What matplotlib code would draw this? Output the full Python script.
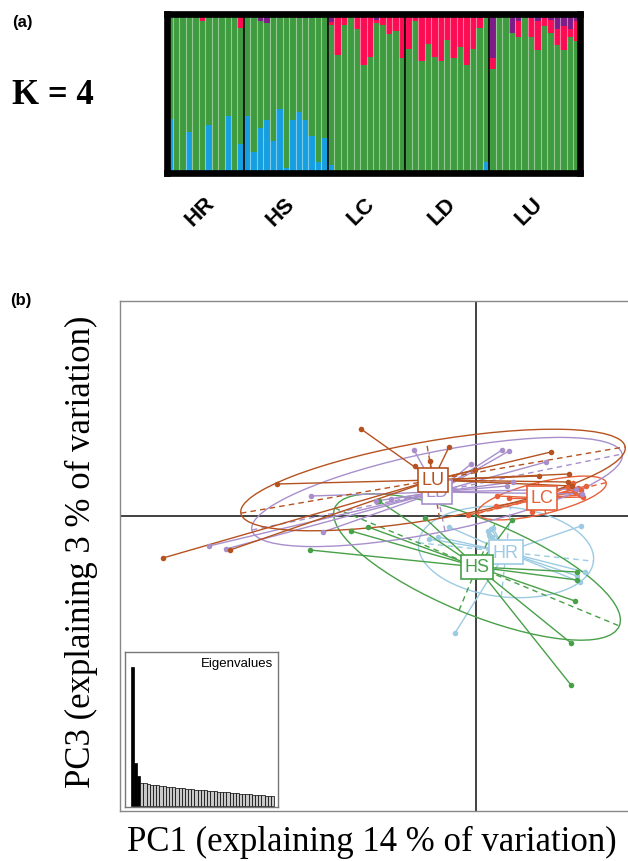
import numpy as np
import matplotlib
matplotlib.use("Agg")
import matplotlib.pyplot as plt
from matplotlib.patches import Ellipse
from matplotlib.transforms import blended_transform_factory

W, H = 628, 862

# ---------------- (a) STRUCTURE K = 4 ----------------
pops = ["HR", "HS", "LC", "LD", "LU"]

hr_blue = [0.34, 0.02, 0.02, 0.26, 0.02, 0.02, 0.30, 0.02, 0.02, 0.36, 0.02, 0.18]
hr_red = [0.0, 0.0, 0.0, 0.0, 0.0, 0.04, 0.0, 0.0, 0.0, 0.0, 0.0, 0.08]
hr_purple = [0.02, 0.02, 0.01, 0.01, 0.01, 0.01, 0.01, 0.02, 0.02, 0.01, 0.01, 0.01]

hs_blue = [0.36, 0.13, 0.28, 0.33, 0.20, 0.40, 0.03, 0.33, 0.38, 0.33, 0.23, 0.07, 0.22]
hs_red = [0.0] * 13
hs_purple = [0.02, 0.02, 0.05, 0.06, 0.01, 0.01, 0.0, 0.02, 0.03, 0.03, 0.03, 0.01, 0.01]

lc_blue = [0.05, 0.0, 0.0, 0.0, 0.0, 0.0, 0.0, 0.0, 0.0, 0.0, 0.0, 0.0]
lc_red = [0.02, 0.26, 0.07, 0.01, 0.10, 0.31, 0.27, 0.02, 0.07, 0.13, 0.11, 0.28]
lc_purple = [0.055, 0.0, 0.0, 0.01, 0.0, 0.01, 0.0, 0.04, 0.0, 0.0, 0.0, 0.0]

ld_blue = [0.0, 0.0, 0.0, 0.0, 0.0, 0.01, 0.0, 0.0, 0.0, 0.0, 0.01, 0.02, 0.07]
ld_red = [0.215, 0.03, 0.28, 0.17, 0.25, 0.29, 0.145, 0.27, 0.19, 0.30, 0.19, 0.06, 0.0]
ld_purple = [0.01, 0.02, 0.02, 0.02, 0.02, 0.01, 0.02, 0.01, 0.02, 0.02, 0.03, 0.03, 0.03]

lu_blue = [0.0] * 14
lu_red = [0.07, 0.0, 0.0, 0.0, 0.10, 0.0, 0.12, 0.18, 0.05, 0.08, 0.10, 0.15, 0.05, 0.12]
lu_purple = [0.28, 0.01, 0.02, 0.12, 0.05, 0.02, 0.03, 0.05, 0.03, 0.04, 0.10, 0.08, 0.10, 0.05]

blue = np.array(hr_blue + hs_blue + lc_blue + ld_blue + lu_blue)
red = np.array(hr_red + hs_red + lc_red + ld_red + lu_red)
purple = np.array(hr_purple + hs_purple + lc_purple + ld_purple + lu_purple)
green = 1 - blue - red - purple
sizes = [len(hr_blue), len(hs_blue), len(lc_blue), len(ld_blue), len(lu_blue)]

C_BLUE, C_GREEN, C_RED, C_PURPLE = "#169fe0", "#3f9b3f", "#fc0c52", "#7d1b87"

fig = plt.figure(figsize=(W / 100, H / 100), dpi=100)

ax1 = fig.add_axes([166.5 / W, 1 - 174 / H, 413 / W, 159.5 / H])
x = np.arange(len(blue))
ax1.bar(x, blue, width=1, align="edge", color=C_BLUE, lw=0)
ax1.bar(x, green, bottom=blue, width=1, align="edge", color=C_GREEN, lw=0)
ax1.bar(x, red, bottom=blue + green, width=1, align="edge", color=C_RED, lw=0)
ax1.bar(x, purple, bottom=blue + green + red, width=1, align="edge", color=C_PURPLE, lw=0)
ax1.vlines(x[1:], 0, 1, color="white", alpha=0.45, lw=0.8)
bounds = np.cumsum(sizes)
ax1.vlines(bounds[:-1], 0, 1, color="black", lw=1.2)
ax1.set_xlim(0, len(blue))
ax1.set_ylim(0, 1)
ax1.set_xticks([])
ax1.set_yticks([])
for s in ax1.spines.values():
    s.set_linewidth(4.8)
    s.set_color("black")

starts = np.concatenate([[0], bounds[:-1]])
trans = blended_transform_factory(ax1.transData, fig.transFigure)
for p, st, n in zip(pops, starts, sizes):
    ax1.text(st + n / 2 - 0.8, 1 - 212 / H, p, transform=trans, rotation=45,
             rotation_mode="anchor", ha="center", va="center",
             fontsize=16, fontweight="bold", family="Liberation Sans")

fig.text(12 / W, 1 - 22 / H, "(a)", fontsize=12, fontweight="bold",
         family="Liberation Sans", va="center")
fig.text(12 / W, 1 - 96 / H, "K = 4", fontsize=25, fontweight="bold",
         family="Liberation Serif", va="center")
fig.text(10 / W, 1 - 301 / H, "(b)", fontsize=12, fontweight="bold",
         family="Liberation Sans", va="center")

# ---------------- (b) PCA scatter ----------------
groups = ["HR", "HS", "LC", "LD", "LU"]
colors = {"HR": "#9ccbe3", "HS": "#48a048", "LC": "#e8603a", "LD": "#a88fcc", "LU": "#b5521f"}

hr_x = [-0.27, -0.47, -0.38, 0.12, 0.15, 0.17, 0.13, 0.16, 1.05, 1.09, 1.04, 1.01, -0.21]
hr_y = [-0.11, -0.23, -0.21, -0.15, -0.13, -0.12, -0.19, -0.21, -0.10, -0.56, -0.66, -0.60, -1.17]
hs_x = [-1.66, -1.25, -1.08, -0.97, -0.51, 0.36, 1.01, 1.01, 0.99, 0.95, 0.95]
hs_y = [-0.34, -0.15, -0.11, 0.15, -0.02, -0.04, -0.56, -0.64, -0.85, -1.27, -1.69]
lc_x = [0.21, 0.33, 0.20, -0.08, 0.56, 0.92, 0.97, 1.02, 1.05, 1.10, 1.04, 1.07, 0.99]
lc_y = [0.20, 0.18, 0.10, 0.01, 0.04, 0.29, 0.33, 0.28, 0.26, 0.30, 0.21, 0.19, 0.24]
ld_x = [-0.62, 0.26, 0.33, 0.70, -0.05, 0.37, 0.31, -1.65, -1.53, -2.67, -2.50, 1.06, 1.00, -0.85, -1.00]
ld_y = [0.66, 0.66, 0.65, 0.54, 0.52, 0.34, 0.30, 0.20, -0.16, -0.30, -0.33, 0.22, 0.27, 0.17, 0.15]
lu_x = [-1.15, -0.61, -0.46, -0.27, -1.99, 0.75, 0.63, 0.93, -0.01, 0.92, -2.46, -3.13, 0.96]
lu_y = [0.87, 0.50, 0.55, 0.69, 0.32, 0.64, 0.40, 0.42, 0.46, 0.34, -0.34, -0.42, 0.30]

pts = {"HR": (hr_x, hr_y), "HS": (hs_x, hs_y), "LC": (lc_x, lc_y),
       "LD": (ld_x, ld_y), "LU": (lu_x, lu_y)}
centres = {"HR": (0.30, -0.36), "HS": (0.01, -0.51), "LC": (0.66, 0.18),
           "LD": (-0.39, 0.24), "LU": (-0.43, 0.36)}
# semi-axes a, b and angle (deg) of the 1.5-inertia ellipses
ell_a = {"HR": 0.88, "HS": 1.54, "LC": 0.66, "LD": 1.89, "LU": 1.95}
ell_b = {"HR": 0.45, "HS": 0.47, "LC": 0.16, "LD": 0.40, "LU": 0.39}
ell_ang = {"HR": -6, "HS": -22.5, "LC": 13.5, "LD": 11.6, "LU": 9.8}

ax2 = fig.add_axes([120 / W, 1 - 812 / H, 520 / W, 510 / H])
ax2.set_xlim(-3.56, 1.64)
ax2.set_ylim(-2.95, 2.15)
ax2.axhline(0, color="#333333", lw=1.3, zorder=1)
ax2.axvline(0, color="#333333", lw=1.3, zorder=1)

for g in groups:
    c = colors[g]
    cx, cy = centres[g]
    gx, gy = pts[g]
    for px, py in zip(gx, gy):
        ax2.plot([cx, px], [cy, py], color=c, lw=1.0, zorder=2)
    ax2.scatter(gx, gy, s=16, color=c, zorder=3, lw=0)
    a, b, ang = ell_a[g], ell_b[g], ell_ang[g]
    ax2.add_patch(Ellipse((cx, cy), 2 * a, 2 * b, angle=ang, fill=False,
                          ec=c, lw=1.0, zorder=2))
    t = np.deg2rad(ang)
    ax2.plot([cx - a * np.cos(t), cx + a * np.cos(t)],
             [cy - a * np.sin(t), cy + a * np.sin(t)],
             color=c, lw=1.0, ls=(0, (4, 3)), zorder=2)
    ax2.plot([cx + b * np.sin(t), cx - b * np.sin(t)],
             [cy - b * np.cos(t), cy + b * np.cos(t)],
             color=c, lw=1.0, ls=(0, (4, 3)), zorder=2)

for i, g in enumerate(groups):
    c = colors[g]
    cx, cy = centres[g]
    ax2.text(cx, cy, g, color=c, fontsize=13, ha="center", va="center",
             family="Liberation Sans", zorder=10 + i,
             bbox=dict(boxstyle="square,pad=0.2", fc="white", ec=c, lw=1.2))

ax2.set_xticks([])
ax2.set_yticks([])
for s in ax2.spines.values():
    s.set_color("#888888")
    s.set_linewidth(1.0)

fig.text(372 / W, 1 - 842 / H, "PC1 (explaining 14 % of variation)", fontsize=25,
         family="Liberation Serif", ha="center", va="center")
fig.text(81 / W, 1 - 552 / H, "PC3 (explaining 3 % of variation)", fontsize=25,
         family="Liberation Serif", ha="center", va="center", rotation=90)

# eigenvalue inset
eig = [1.00, 0.31, 0.22,
       0.168, 0.163, 0.158, 0.155, 0.151, 0.148, 0.145, 0.143, 0.140, 0.137,
       0.134, 0.131, 0.129, 0.127, 0.125, 0.122, 0.120, 0.118, 0.116, 0.114,
       0.112, 0.110, 0.108, 0.106, 0.104, 0.102, 0.100, 0.098, 0.096, 0.094,
       0.092, 0.090, 0.088, 0.086, 0.084, 0.082, 0.080, 0.078, 0.076, 0.074,
       0.072, 0.069]
ax3 = fig.add_axes([125 / W, 1 - 808 / H, 153 / W, 155 / H])
bar_cols = ["black"] * 3 + ["#c8c8c8"] * (len(eig) - 3)
ax3.bar(np.arange(1, len(eig) + 1), eig, width=1, color=bar_cols,
        edgecolor="black", lw=0.5)
ax3.set_xlim(-1.29, len(eig) + 1.7)
ax3.set_ylim(-0.007, 1.11)
ax3.set_xticks([])
ax3.set_yticks([])
for s in ax3.spines.values():
    s.set_color("#777777")
    s.set_linewidth(1.0)
ax3.text(0.97, 0.97, "Eigenvalues", transform=ax3.transAxes, ha="right", va="top",
         fontsize=9.5, family="Liberation Sans")

fig.savefig("out.png", dpi=100)
